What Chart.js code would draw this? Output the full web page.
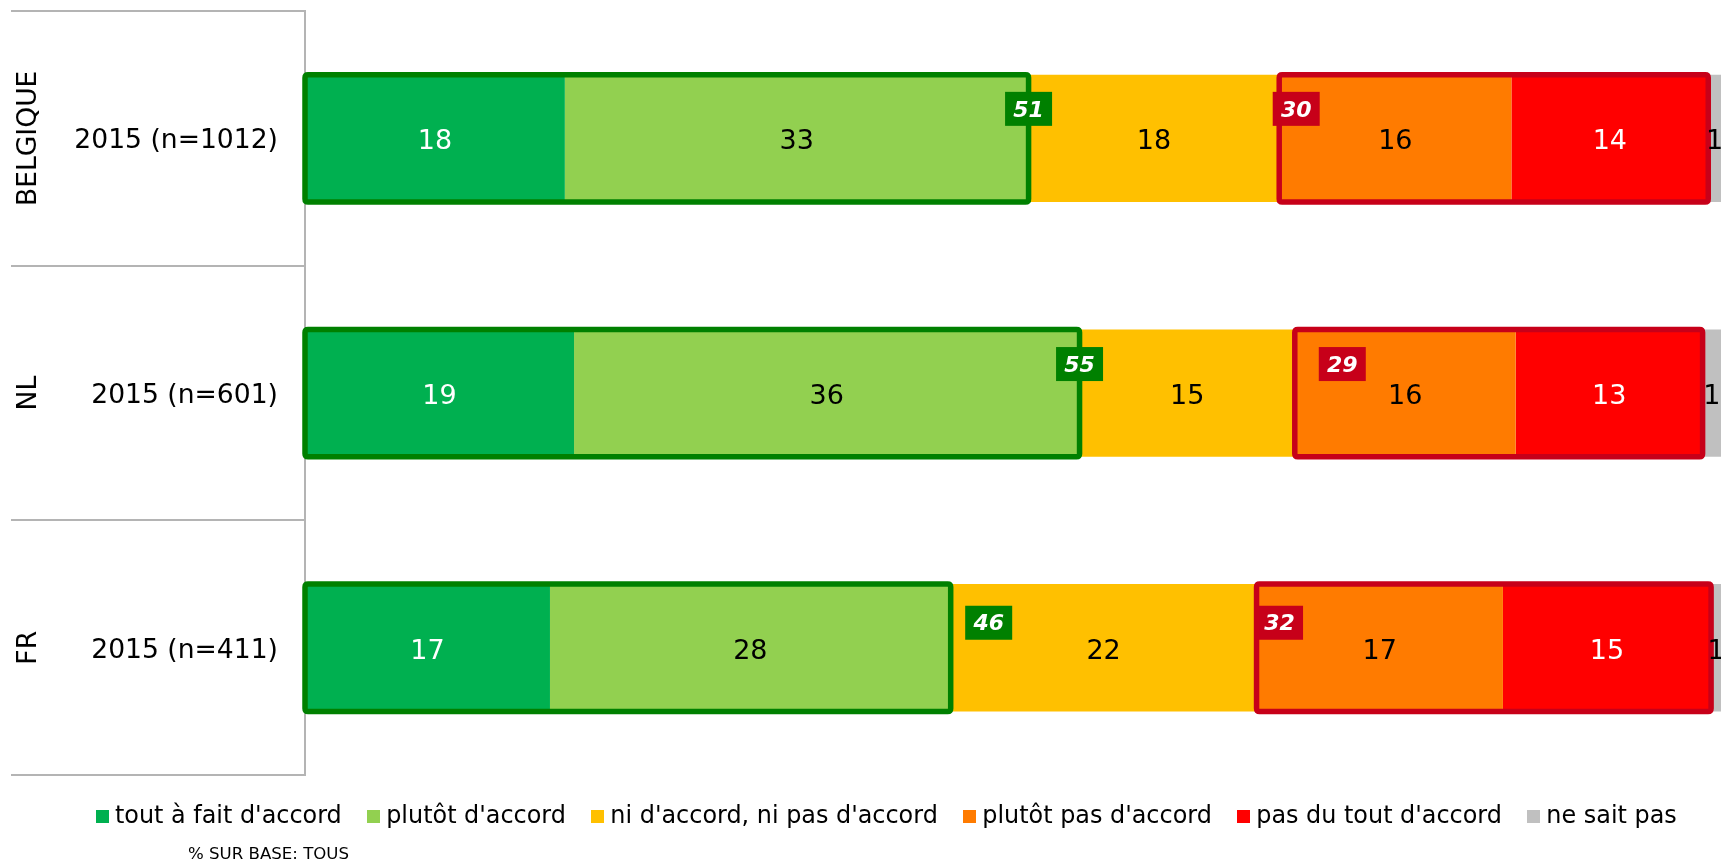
<!DOCTYPE html>
<html>
<head>
<meta charset="utf-8">
<script src="https://cdn.jsdelivr.net/npm/chart.js@4/dist/chart.umd.min.js"></script>
<style>
  html, body { margin: 0; padding: 0; background: #fff; overflow: hidden; }
  #wrap { width: 1721px; height: 861px; position: relative; }
</style>
</head>
<body>
<div id="wrap"><canvas id="c" width="1721" height="861"></canvas></div>
<script>
// ---- data ----
const categories = ['2015 (n=1012)', '2015 (n=601)', '2015 (n=411)'];
const groupLabels = ['BELGIQUE', 'NL', 'FR'];
const seriesNames = ["tout à fait d'accord", "plutôt d'accord", "ni d'accord, ni pas d'accord", "plutôt pas d'accord", "pas du tout d'accord", "ne sait pas"];
const toutAFait   = [18.35, 19.0, 17.3];
const plutotAcc   = [32.75, 35.7, 28.3];
const niNi        = [17.7, 15.2, 21.6];
const plutotPas   = [16.4, 15.6, 17.4];
const pasDuTout   = [13.9, 13.2, 14.7];
const neSaitPas   = [0.9, 1.3, 0.7];
const footnote = '% SUR BASE: TOUS';

// ---- styles ----
const FONT = "'DejaVu Sans', Verdana, sans-serif";
const segColors = ['#00B050', '#92D050', '#FFC000', '#FF7B00', '#FF0000', '#C0C0C0'];
const segTextColors = ['#ffffff', '#000000', '#000000', '#000000', '#ffffff', '#000000'];
const agreeColor = '#008000';
const disagreeColor = '#C70019';
const lineGray = '#b4b4b4';
// badge placement tweaks (pixels), per row
const greenBadgeDx = [0, 0, 38];
const redBadgeDx = [17, 47.5, 23];
const badgeRise = [29.5, 29, 25];

const seriesValues = [toutAFait, plutotAcc, niNi, plutotPas, pasDuTout, neSaitPas];

function swatch(color) {
  const c = document.createElement('canvas');
  c.width = 13; c.height = 13;
  const g = c.getContext('2d');
  g.fillStyle = color; g.fillRect(0, 0, 13, 13);
  return c;
}
const swatches = segColors.map(swatch);

const datasets = seriesNames.map((name, i) => ({
  label: name,
  data: seriesValues[i],
  backgroundColor: segColors[i],
  borderWidth: 0,
  barPercentage: 0.5,
  categoryPercentage: 1.0
}));

function roundRect(ctx, x, y, w, h, r) {
  ctx.beginPath();
  ctx.moveTo(x + r, y);
  ctx.lineTo(x + w - r, y);
  ctx.quadraticCurveTo(x + w, y, x + w, y + r);
  ctx.lineTo(x + w, y + h - r);
  ctx.quadraticCurveTo(x + w, y + h, x + w - r, y + h);
  ctx.lineTo(x + r, y + h);
  ctx.quadraticCurveTo(x, y + h, x, y + h - r);
  ctx.lineTo(x, y + r);
  ctx.quadraticCurveTo(x, y, x + r, y);
  ctx.closePath();
}

const overlayPlugin = {
  id: 'overlay',
  afterLayout(chart) {
    const lg = chart.legend;
    if (lg) {
      lg.left = 102 - 31.5;
      lg.right = 1900;
      lg.top -= 2;
      lg.bottom -= 2;
    }
  },
  afterDatasetsDraw(chart) {
    const ctx = chart.ctx;
    const xs = chart.scales.x;
    const nRows = categories.length;
    // group outlines
    for (let r = 0; r < nRows; r++) {
      const el = chart.getDatasetMeta(0).data[r];
      const top = el.y - el.height / 2;
      const h = el.height;
      const agreeEnd = toutAFait[r] + plutotAcc[r];
      const disStart = agreeEnd + niNi[r];
      const disEnd = disStart + plutotPas[r] + pasDuTout[r];
      ctx.save();
      ctx.lineWidth = 5.5;
      ctx.strokeStyle = agreeColor;
      const x0 = xs.getPixelForValue(0), x1 = xs.getPixelForValue(agreeEnd);
      roundRect(ctx, x0, top, x1 - x0, h, 3);
      ctx.stroke();
      ctx.strokeStyle = disagreeColor;
      const x2 = xs.getPixelForValue(disStart), x3 = xs.getPixelForValue(disEnd);
      roundRect(ctx, x2, top, x3 - x2, h, 3);
      ctx.stroke();
      ctx.restore();
    }
    // segment labels
    ctx.save();
    ctx.font = '27px ' + FONT;
    ctx.textAlign = 'center';
    ctx.textBaseline = 'middle';
    chart.data.datasets.forEach((ds, di) => {
      const meta = chart.getDatasetMeta(di);
      meta.data.forEach((el, r) => {
        const cx = (el.x + el.base) / 2;
        ctx.fillStyle = segTextColors[di];
        ctx.fillText(String(Math.round(ds.data[r])), cx, el.y + 4);
      });
    });
    ctx.restore();
    // badges
    ctx.save();
    ctx.font = 'italic bold 22px ' + FONT;
    ctx.textAlign = 'center';
    ctx.textBaseline = 'middle';
    for (let r = 0; r < nRows; r++) {
      const el = chart.getDatasetMeta(0).data[r];
      const agreeEnd = toutAFait[r] + plutotAcc[r];
      const disStart = agreeEnd + niNi[r];
      const disSum = plutotPas[r] + pasDuTout[r];
      const by = el.y - badgeRise[r];
      const gx = xs.getPixelForValue(agreeEnd) + greenBadgeDx[r];
      ctx.fillStyle = agreeColor;
      ctx.fillRect(gx - 23.5, by - 17, 47, 34);
      ctx.fillStyle = '#fff';
      ctx.fillText(String(Math.round(agreeEnd)), gx, by + 2);
      const rx = xs.getPixelForValue(disStart) + redBadgeDx[r];
      ctx.fillStyle = disagreeColor;
      ctx.fillRect(rx - 23.5, by - 17, 47, 34);
      ctx.fillStyle = '#fff';
      ctx.fillText(String(Math.round(disSum)), rx, by + 2);
    }
    ctx.restore();
  },
  afterDraw(chart) {
    const ctx = chart.ctx;
    ctx.save();
    ctx.font = '16.6px ' + FONT;
    ctx.fillStyle = '#000';
    ctx.textAlign = 'left';
    ctx.textBaseline = 'middle';
    ctx.fillText(footnote, 188, 855);
    ctx.restore();
  }
};

new Chart(document.getElementById('c'), {
  type: 'bar',
  data: { labels: categories, datasets },
  plugins: [overlayPlugin],
  options: {
    responsive: false,
    animation: false,
    devicePixelRatio: 1,
    indexAxis: 'y',
    layout: { padding: { top: 11, bottom: 20.5, left: 0, right: 0 } },
    scales: {
      x: { type: 'linear', stacked: true, min: 0, max: 100, display: false },
      y: {
        type: 'category',
        stacked: true,
        position: 'left',
        weight: 0,
        offset: true,
        grid: { offset: true, drawOnChartArea: false, tickLength: 235, color: lineGray, lineWidth: 2 },
        border: { display: true, color: lineGray, width: 2 },
        ticks: { padding: -208, labelOffset: 3, crossAlign: 'near', color: '#000', font: { family: FONT, size: 26.6 } },
        afterFit(s) { s.width = 235; }
      },
      y2: {
        type: 'category',
        labels: groupLabels,
        position: 'left',
        weight: 1,
        offset: true,
        grid: { offset: true, drawOnChartArea: false, tickLength: 59, color: lineGray, lineWidth: 2 },
        border: { display: false },
        ticks: { minRotation: 90, maxRotation: 90, crossAlign: 'center', padding: -86, color: '#000', font: { family: FONT, size: 26.6 } },
        afterFit(s) { s.width = 70; }
      }
    },
    plugins: {
      tooltip: { enabled: false },
      title: { display: false },
      legend: {
        display: true,
        position: 'bottom',
        align: 'start',
        labels: {
          usePointStyle: true,
          pointStyleWidth: 1,
          boxHeight: 13,
          padding: 31.5,
          color: '#000',
          font: { family: FONT, size: 23.9 },
          generateLabels(chart) {
            const items = Chart.defaults.plugins.legend.labels.generateLabels(chart);
            items.forEach((it, i) => { it.pointStyle = swatches[i]; it.lineWidth = 0; });
            return items;
          }
        }
      }
    }
  }
});
</script>
</body>
</html>
